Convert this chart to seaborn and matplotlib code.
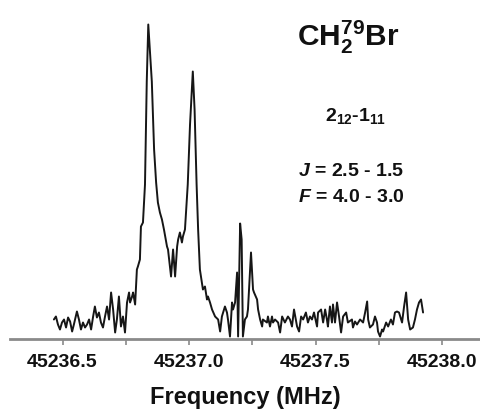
import numpy as np
import pandas as pd
import matplotlib
matplotlib.use("Agg")
import matplotlib.pyplot as plt
import seaborn as sns

# spectrum (MHz, arbitrary intensity units)
freq_mhz = [
    45236.466, 45236.474, 45236.482, 45236.490, 45236.498, 45236.506, 45236.514,
    45236.522, 45236.530, 45236.538, 45236.545, 45236.557, 45236.565, 45236.573,
    45236.581, 45236.589, 45236.597, 45236.605, 45236.613, 45236.621, 45236.628,
    45236.636, 45236.644, 45236.652, 45236.660, 45236.668, 45236.676, 45236.684,
    45236.692, 45236.700, 45236.708, 45236.715, 45236.723, 45236.731, 45236.739,
    45236.747, 45236.755, 45236.763, 45236.767, 45236.775, 45236.779, 45236.787,
    45236.794, 45236.798, 45236.806, 45236.810, 45236.818, 45236.826, 45236.833,
    45236.839, 45236.853, 45236.862, 45236.870, 45236.877, 45236.885, 45236.893,
    45236.901, 45236.913, 45236.917, 45236.929, 45236.937, 45236.945, 45236.953,
    45236.957, 45236.964, 45236.972, 45236.976, 45236.984, 45236.995, 45237.004,
    45237.015, 45237.022, 45237.030, 45237.036, 45237.043, 45237.051, 45237.055,
    45237.063, 45237.071, 45237.075, 45237.083, 45237.091, 45237.103, 45237.115,
    45237.123, 45237.130, 45237.142, 45237.150, 45237.154, 45237.162, 45237.170,
    45237.174, 45237.182, 45237.190, 45237.194, 45237.202, 45237.208, 45237.213,
    45237.221, 45237.229, 45237.233, 45237.245, 45237.253, 45237.257, 45237.269,
    45237.273, 45237.281, 45237.289, 45237.292, 45237.308, 45237.312, 45237.320,
    45237.328, 45237.332, 45237.340, 45237.352, 45237.360, 45237.368, 45237.379,
    45237.391, 45237.399, 45237.407, 45237.415, 45237.427, 45237.435, 45237.443,
    45237.451, 45237.462, 45237.470, 45237.478, 45237.486, 45237.494, 45237.506,
    45237.510, 45237.522, 45237.530, 45237.538, 45237.545, 45237.549, 45237.557,
    45237.565, 45237.569, 45237.577, 45237.585, 45237.593, 45237.601, 45237.609,
    45237.621, 45237.628, 45237.644, 45237.648, 45237.656, 45237.664, 45237.676,
    45237.688, 45237.696, 45237.704, 45237.708, 45237.715, 45237.727, 45237.735,
    45237.743, 45237.747, 45237.755, 45237.763, 45237.767, 45237.779, 45237.787,
    45237.798, 45237.806, 45237.814, 45237.822, 45237.830, 45237.842, 45237.850,
    45237.858, 45237.866, 45237.874, 45237.885, 45237.893, 45237.901, 45237.909,
    45237.917, 45237.925,
]
intensity = [
    19, 22, 14, 9, 16, 19, 11,
    21, 17, 7, 14, 27, 19, 9,
    16, 11, 14, 19, 9, 22, 32,
    21, 26, 16, 11, 22, 32, 19,
    46, 29, 6, 19, 42, 12, 22,
    6, 36, 46, 36, 42, 46, 34,
    69, 72, 79, 112, 116, 154, 257,
    314, 257, 189, 156, 136, 126, 119,
    109, 92, 89, 62, 89, 62, 92,
    99, 106, 96, 102, 109, 154, 214,
    267, 229, 154, 109, 69, 56, 49,
    52, 39, 42, 36, 29, 22, 19,
    7, 22, 32, 26, 19, 2, 36,
    29, 36, 66, 2, 115, 99, 2,
    19, 22, 29, 86, 49, 46, 39,
    29, 19, 12, 19, 16, 22, 12,
    22, 16, 19, 16, 6, 22, 16,
    22, 19, 12, 29, 12, 7, 22,
    19, 26, 16, 22, 19, 26, 12,
    26, 29, 16, 29, 19, 12, 32,
    16, 34, 16, 36, 22, 6, 22,
    26, 16, 19, 11, 17, 14, 19,
    16, 26, 37, 19, 11, 14, 22,
    16, 7, 2, 9, 7, 16, 12,
    19, 14, 26, 27, 26, 16, 32,
    46, 19, 9, 11, 19, 29, 36,
    39, 26,
]

major_ticks = [45236.5, 45237.0, 45237.5, 45238.0]
minor_ticks = [45236.75, 45237.25, 45237.75]

df = pd.DataFrame({"freq": freq_mhz, "intensity": intensity})

sns.set_style("white")
plt.rcParams["font.family"] = ["Liberation Sans", "DejaVu Sans"]
plt.rcParams["text.color"] = "#111111"
plt.rcParams["xtick.labelcolor"] = "#111111"
plt.rcParams["axes.labelcolor"] = "#111111"
plt.rcParams["mathtext.fontset"] = "custom"
plt.rcParams["mathtext.rm"] = "Liberation Sans"
plt.rcParams["mathtext.bf"] = "Liberation Sans:bold"
plt.rcParams["mathtext.it"] = "Liberation Sans:italic"
plt.rcParams["mathtext.bfit"] = "Liberation Sans:italic:bold"

W, H = 481, 413
fig = plt.figure(figsize=(W / 100, H / 100), dpi=100)
ax = fig.add_axes([10 / W, (H - 338.5) / H, (W - 10) / W, 338.5 / H])

sns.lineplot(data=df, x="freq", y="intensity", ax=ax, color="#161616",
             linewidth=1.4, sort=False)

ax.set_xlim(45236.2925, 45238.154)
ax.set_ylim(0, 338.5)
for side in ["top", "left", "right"]:
    ax.spines[side].set_visible(False)
ax.spines["bottom"].set_color("#8a8a8a")
ax.spines["bottom"].set_linewidth(2)

ax.set_yticks([])
ax.set_xticks(major_ticks)
ax.set_xticklabels([f"{t:.1f}" for t in major_ticks], fontsize=14, fontweight="bold")
ax.set_xticks(minor_ticks, minor=True)
ax.tick_params(axis="x", which="both", direction="out", length=4, width=1.2,
               color="#8a8a8a", pad=7, bottom=True)
ax.set_xlabel("Frequency (MHz)", fontsize=17, fontweight="bold", labelpad=11)
ax.set_ylabel("")


def put(x, y, s, **kw):
    fig.text(x / W, 1 - y / H, s, **kw)


put(348, 37, r"$\mathbf{CH_2^{79}Br}$", fontsize=21.5, ha="center", va="center")
put(356, 116, r"$\mathbf{2_{12}}$-$\mathbf{1_{11}}$", fontsize=14,
    fontweight="bold", ha="center", va="center")
put(298, 172, r"$\mathbfit{J}$ = 2.5 - 1.5", fontsize=14, fontweight="bold",
    ha="left", va="center")
put(298, 197, r"$\mathbfit{F}$ = 4.0 - 3.0", fontsize=14, fontweight="bold",
    ha="left", va="center")

fig.savefig("out.png", dpi=100)
